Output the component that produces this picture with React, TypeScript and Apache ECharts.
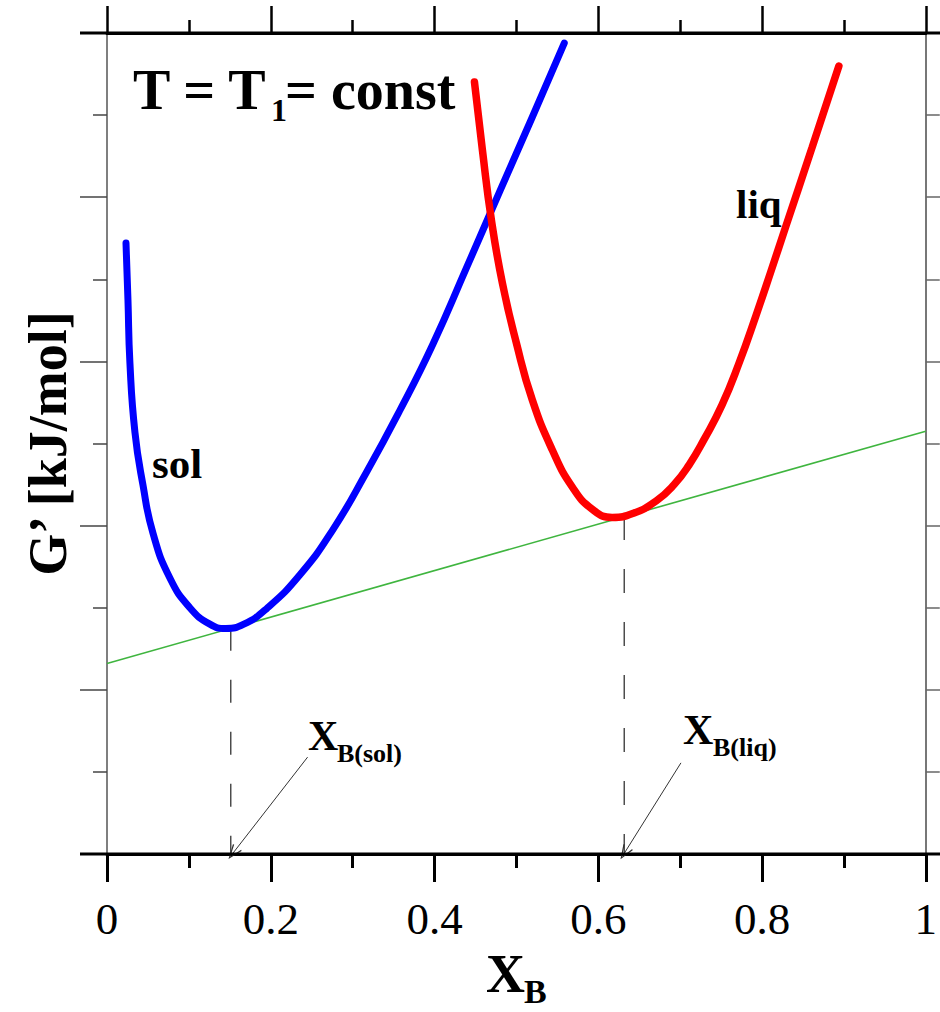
import React, { useEffect, useRef } from 'react';
import * as echarts from 'echarts';

const FONT = "'Liberation Serif', 'Times New Roman', Times, serif";

// x-axis tick labels (X_B)
const xTickLabels = ['0', '0.2', '0.4', '0.6', '0.8', '1'];

// G' of the solid solution [X_B, G']
const solData: number[][] = [
  [0.0232, 7.442], [0.0256, 6.748], [0.028, 5.981], [0.0341, 5.14],
  [0.0439, 4.495], [0.0561, 3.91], [0.0768, 3.362], [0.1012, 3.0],
  [0.1256, 2.8], [0.145, 2.748], [0.1672, 2.8],
  [0.1951, 2.99], [0.2354, 3.398], [0.2756, 3.946],
  [0.3171, 4.653], [0.3573, 5.396], [0.3976, 6.2], [0.439, 7.138],
  [0.4793, 8.063], [0.5195, 8.977], [0.5585, 9.878],
];

// G' of the liquid
const liqData: number[][] = [
  [0.4488, 9.403], [0.4585, 8.575], [0.4695, 7.722], [0.4829, 6.955],
  [0.5, 6.224], [0.5195, 5.53], [0.5439, 4.921], [0.5683, 4.47],
  [0.5927, 4.2], [0.617, 4.1], [0.643, 4.15],
  [0.6707, 4.3], [0.6927, 4.5], [0.711, 4.74], [0.7293, 5.05],
  [0.7512, 5.47], [0.772, 5.98], [0.7927, 6.56], [0.811, 7.1],
  [0.8293, 7.65], [0.861, 8.6], [0.8939, 9.598],
];

// common tangent
const tangentLine: number[][] = [[0, 2.32], [1, 5.15]];

// vertical tie lines from tangent points to the axis
const solTie: number[][] = [[0.1512, 2.756], [0.1512, 0]];
const liqTie: number[][] = [[0.6317, 4.117], [0.6317, 0]];

// annotation arrows [from, to]
const solArrow: number[][] = [[0.245, 1.18], [0.154, 0.012]];
const liqArrow: number[][] = [[0.701, 1.11], [0.632, 0.012]];

const chevron = 'path://M5,0 L10,12 L9,12.6 L5,2.6 L1,12.6 L0,12 Z';

export default function App() {
  const ref = useRef<HTMLDivElement>(null);

  useEffect(() => {
    document.body.style.margin = '0';
    const chart = echarts.init(ref.current as HTMLDivElement, null, { renderer: 'svg' });

    const bold = (text: string, x: number, y: number, size: number) => ({
      type: 'text',
      x,
      y,
      silent: true,
      style: {
        text,
        fontFamily: FONT,
        fontWeight: 'bold',
        fontSize: size,
        fill: '#000',
        align: 'left',
        verticalAlign: 'top',
      },
    });

    chart.setOption({
      animation: false,
      backgroundColor: '#fff',
      grid: { left: 107, right: 13, top: 33, bottom: 158, containLabel: false },
      xAxis: [
        {
          type: 'value',
          position: 'bottom',
          min: 0,
          max: 1,
          interval: 0.2,
          axisLine: { show: true, onZero: false, lineStyle: { color: '#000', width: 3 } },
          axisTick: { show: true, inside: false, length: 28, lineStyle: { color: '#000', width: 3 } },
          minorTick: { show: true, splitNumber: 2, length: 14, lineStyle: { color: '#000', width: 3 } },
          axisLabel: {
            show: true,
            margin: 42,
            fontSize: 45,
            fontFamily: FONT,
            color: '#000',
            formatter: (v: number) => xTickLabels[Math.round(v / 0.2)] ?? '',
          },
          splitLine: { show: false },
          minorSplitLine: { show: false },
        },
        {
          type: 'value',
          position: 'top',
          min: 0,
          max: 1,
          interval: 0.2,
          axisLine: { show: true, onZero: false, lineStyle: { color: '#000', width: 3 } },
          axisTick: { show: true, inside: false, length: 27, lineStyle: { color: '#000', width: 2.5 } },
          minorTick: { show: true, splitNumber: 2, length: 13, lineStyle: { color: '#000', width: 2.5 } },
          axisLabel: { show: false },
          splitLine: { show: false },
        },
      ],
      yAxis: [
        {
          type: 'value',
          position: 'left',
          min: 0,
          max: 10,
          interval: 2,
          name: 'G’ [kJ/mol]',
          nameLocation: 'middle',
          nameGap: 32,
          nameRotate: 90,
          nameTextStyle: { fontSize: 54, fontWeight: 'bold', fontFamily: FONT, color: '#000' },
          axisLine: { show: true, onZero: false, lineStyle: { color: '#555', width: 1.5 } },
          axisTick: { show: true, inside: false, length: 27, lineStyle: { color: '#444', width: 1.5 } },
          minorTick: { show: true, splitNumber: 2, length: 14, lineStyle: { color: '#444', width: 1.5 } },
          axisLabel: { show: false },
          splitLine: { show: false },
        },
        {
          type: 'value',
          position: 'right',
          min: 0,
          max: 10,
          interval: 2,
          axisLine: { show: true, onZero: false, lineStyle: { color: '#777', width: 2 } },
          axisTick: { show: true, inside: false, length: 27, lineStyle: { color: '#666', width: 1.5 } },
          minorTick: { show: true, splitNumber: 2, length: 14, lineStyle: { color: '#666', width: 1.5 } },
          axisLabel: { show: false },
          splitLine: { show: false },
        },
      ],
      series: [
        {
          name: 'tangent',
          type: 'line',
          data: tangentLine,
          showSymbol: false,
          silent: true,
          lineStyle: { color: '#3fb53f', width: 1.6 },
          z: 2,
        },
        {
          name: 'tie sol',
          type: 'line',
          data: solTie,
          showSymbol: false,
          silent: true,
          lineStyle: { color: '#222', width: 1.2, type: [23, 29] },
          z: 2,
        },
        {
          name: 'tie liq',
          type: 'line',
          data: liqTie,
          showSymbol: false,
          silent: true,
          lineStyle: { color: '#222', width: 1.2, type: [24, 29] },
          z: 2,
        },
        {
          name: 'arrows',
          type: 'line',
          data: [],
          silent: true,
          markLine: {
            silent: true,
            symbol: ['none', chevron],
            symbolSize: [11, 15],
            label: { show: false },
            lineStyle: { color: '#333', width: 1, type: 'solid' },
            emphasis: { disabled: true },
            data: [
              [{ coord: solArrow[0] }, { coord: solArrow[1] }],
              [{ coord: liqArrow[0] }, { coord: liqArrow[1] }],
            ],
          },
          z: 2,
        },
        {
          name: 'sol',
          type: 'line',
          data: solData,
          smooth: 0.5,
          showSymbol: false,
          silent: true,
          lineStyle: { color: '#0000ff', width: 7, cap: 'round', join: 'round' },
          z: 4,
        },
        {
          name: 'liq',
          type: 'line',
          data: liqData,
          smooth: 0.5,
          showSymbol: false,
          silent: true,
          lineStyle: { color: '#ff0000', width: 7.5, cap: 'round', join: 'round' },
          z: 4,
        },
      ],
      graphic: [
        // extended horizontal frame lines
        { type: 'line', silent: true, z: 10, shape: { x1: 80, y1: 854, x2: 940, y2: 854 }, style: { stroke: '#000', lineWidth: 3 } },
        { type: 'line', silent: true, z: 10, shape: { x1: 80, y1: 33, x2: 940, y2: 33 }, style: { stroke: '#000', lineWidth: 3 } },
        // title
        bold('T = T', 133, 62, 56),
        bold('1', 271, 94, 32),
        bold('= const', 285, 62, 56),
        // curve labels
        bold('sol', 152, 442, 43),
        bold('liq', 736, 183, 41),
        // tangent point labels
        bold('X', 308, 715, 42),
        bold('B(sol)', 337, 740, 26),
        bold('X', 683, 709, 42),
        bold('B(liq)', 713, 734, 26),
        // x-axis title
        bold('X', 486, 947, 54),
        bold('B', 524, 974, 34),
      ],
    });

    return () => chart.dispose();
  }, []);

  return <div ref={ref} style={{ width: 940, height: 1012 }} />;
}
